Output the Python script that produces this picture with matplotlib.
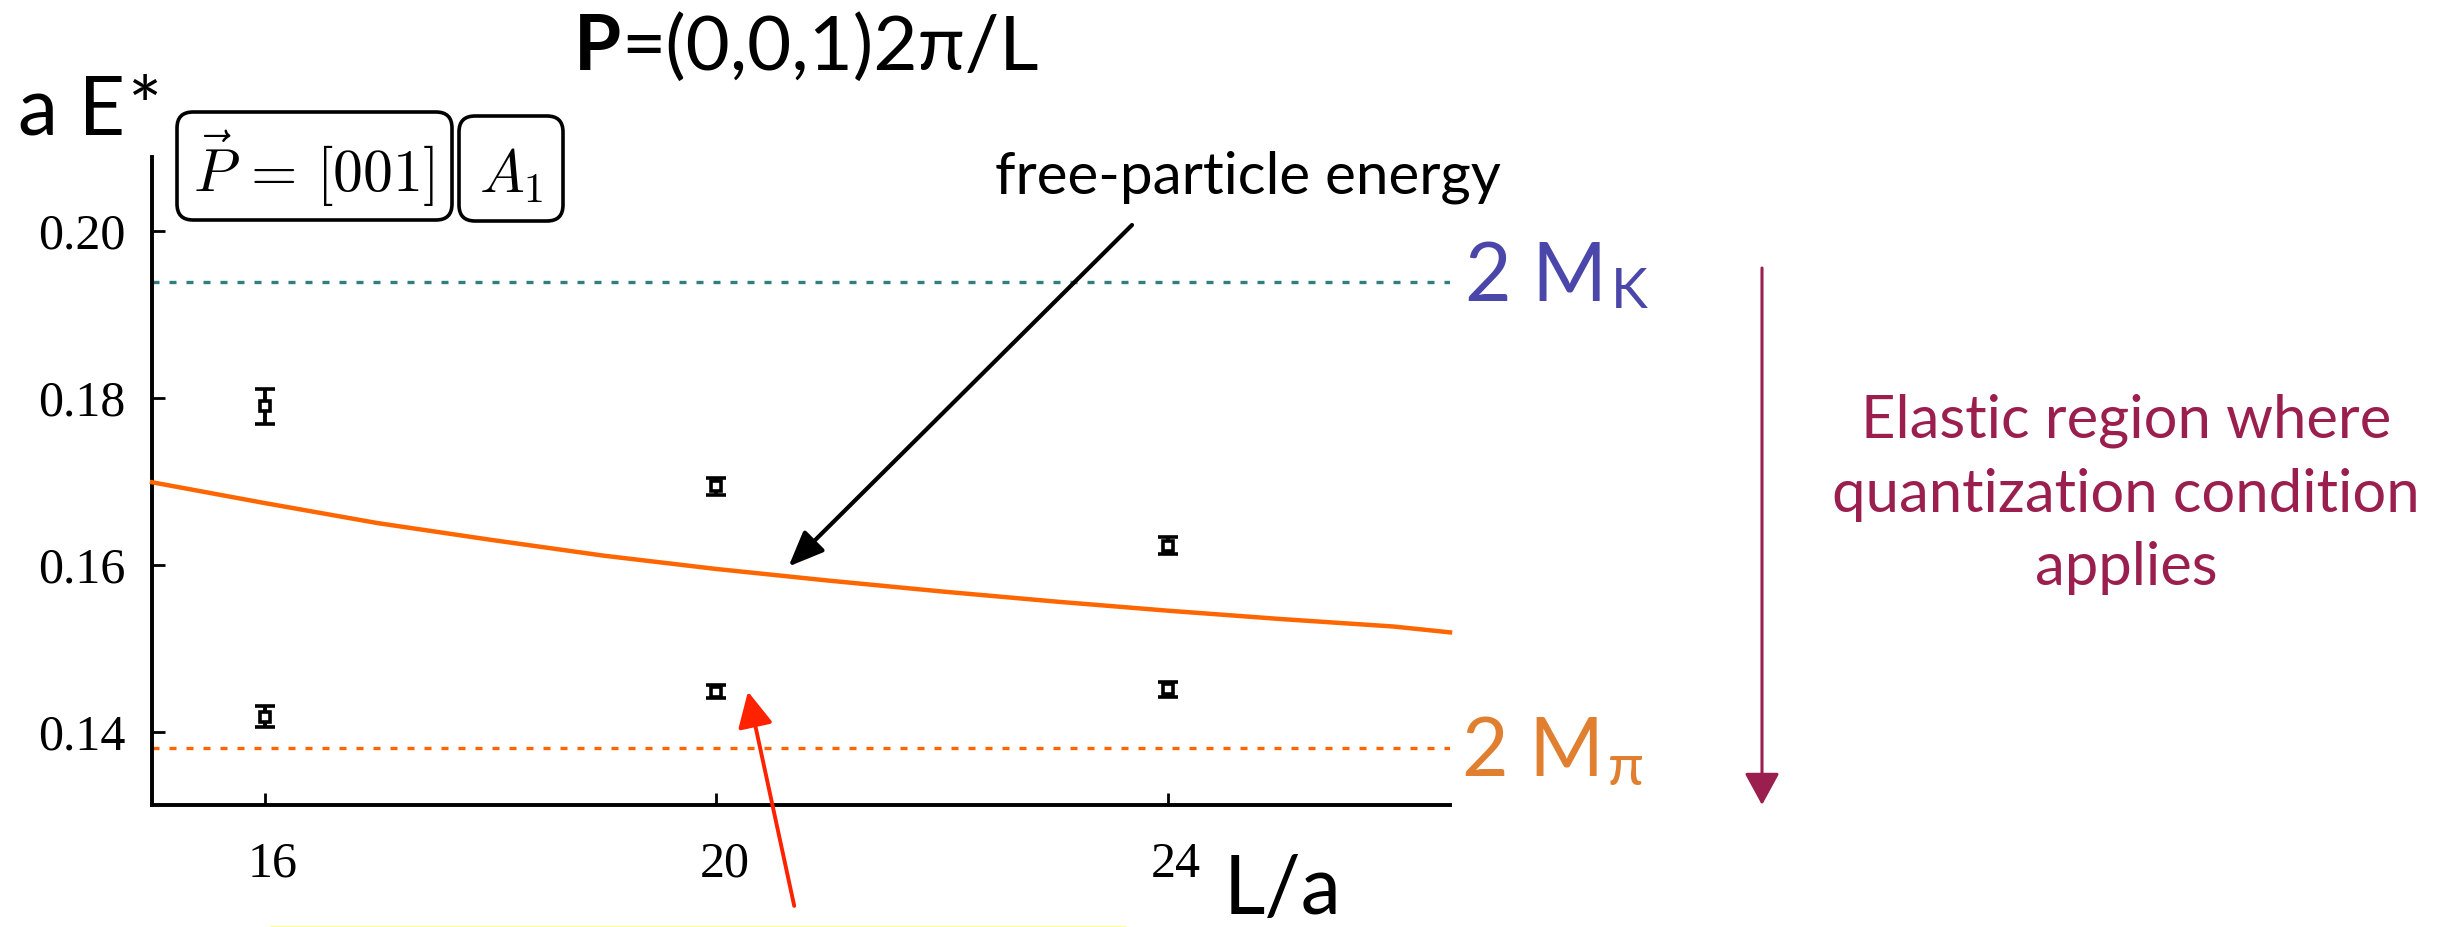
import matplotlib
matplotlib.use("Agg")
import matplotlib.pyplot as plt
import matplotlib.transforms as mtransforms
from matplotlib.patches import FancyBboxPatch, FancyArrowPatch
from matplotlib.lines import Line2D

W, H, DPI = 2454, 927, 100

# ---- values ----
L_vals = [16, 20, 24]
E_upper = [0.1790, 0.1694, 0.1623]
err_upper = [0.0021, 0.0010, 0.0010]
E_lower = [0.1418, 0.1448, 0.1451]
err_lower = [0.0013, 0.0008, 0.0009]

# free-particle energy curve
L_free = [15, 16, 17, 18, 19, 20, 21, 22, 23, 24, 25, 26, 26.5]
E_free = [0.1699, 0.1674, 0.1650, 0.1630, 0.1611, 0.1595, 0.1581,
          0.1568, 0.1556, 0.1545, 0.1535, 0.1526, 0.1519]

two_mK = 0.1939
two_mpi = 0.1380

xticks = [16, 20, 24]
xtick_labels = ["16", "20", "24"]
yticks = [0.14, 0.16, 0.18, 0.20]
ytick_labels = ["0.14", "0.16", "0.18", "0.20"]

# colours
c_curve = "#ff6600"
c_teal = "#2f7f7c"
c_purple = "#4b46a9"
c_mpi = "#e07f30"
c_maroon = "#9a1f4e"
c_red = "#ff2200"

plt.rcParams["font.family"] = ["Lato", "DejaVu Sans"]
plt.rcParams["mathtext.fontset"] = "cm"

fig = plt.figure(figsize=(W / DPI, H / DPI), dpi=DPI)
ax = fig.add_axes([152 / W, 1 - 805 / H, (1450 - 152) / W, (805 - 157) / H])
ax.set_xlim(15.0, 26.5)
ax.set_ylim(0.1312, 0.2089)

for s in ["top", "right"]:
    ax.spines[s].set_visible(False)
for s in ["left", "bottom"]:
    ax.spines[s].set_linewidth(2.8)

ax.set_xticks(xticks)
ax.set_xticklabels(xtick_labels, fontfamily="Liberation Serif", fontsize=36)
ax.set_yticks(yticks)
ax.set_yticklabels(ytick_labels, fontfamily="Liberation Serif", fontsize=36)
ax.tick_params(axis="both", direction="in", length=9, width=2)
ax.tick_params(axis="y", pad=19)
ax.tick_params(axis="x", pad=26)
# x labels sit slightly right of their ticks
shift = mtransforms.ScaledTranslation(8 / DPI, 0, fig.dpi_scale_trans)
for lab in ax.get_xticklabels():
    lab.set_transform(lab.get_transform() + shift)

# threshold lines
dots = (0, (2.1, 3.0))
ax.axhline(two_mK, color=c_teal, lw=2.4, linestyle=dots)
ax.axhline(two_mpi, color=c_curve, lw=2.4, linestyle=dots)

# free-particle curve
ax.plot(L_free, E_free, color=c_curve, lw=3.2, clip_on=False, zorder=3)

# lattice levels
eb = dict(fmt="s", ms=6.6, mfc="white", mec="black", mew=2.6, ecolor="black",
          elinewidth=2.8, capsize=7.2, capthick=2.8, zorder=5)
ax.errorbar(L_vals, E_upper, yerr=err_upper, **eb)
ax.errorbar(L_vals, E_lower, yerr=err_lower, **eb)


def ftext(x, y, s, **kw):
    # x, y in image pixels from top-left, y is the baseline
    return fig.text(x / W, 1 - y / H, s, va="baseline", **kw)


# threshold labels
tK = ax.annotate("2 M", xy=(1, two_mK), xycoords=("axes fraction", "data"),
                 xytext=(15 * 0.72, -19 * 0.72), textcoords="offset points",
                 va="baseline", ha="left", fontsize=58, color=c_purple,
                 annotation_clip=False)
tP = ax.annotate("2 M", xy=(1, two_mpi), xycoords=("axes fraction", "data"),
                 xytext=(12 * 0.72, -28 * 0.72), textcoords="offset points",
                 va="baseline", ha="left", fontsize=58, color=c_mpi,
                 annotation_clip=False)

# title and axis words
tT = ftext(574, 70, "P", fontsize=55, fontweight="bold")
tA = ftext(18, 135, "a E", fontsize=58)
ftext(1224, 914, "L/a", fontsize=58)

# boxed labels
box_kw = dict(boxstyle="round,pad=0,rounding_size=16", fc="white", ec="black",
              lw=2.6, transform=mtransforms.IdentityTransform())
fig.add_artist(FancyBboxPatch((177, H - 220), 452 - 177, 108, **box_kw))
fig.add_artist(FancyBboxPatch((459, H - 221), 563 - 459, 105, **box_kw))
ftext(313, 192, r"$\vec{P}\,=\,[001]$", fontsize=43, ha="center")
ftext(511, 193, r"$A_1$", fontsize=43, ha="center")

# annotations
ftext(1248, 193, "free-particle energy", fontsize=42, ha="center")
ax.annotate("", xy=(20.64, 0.1598), xycoords="data",
            xytext=(1132, H - 225), textcoords="figure pixels",
            arrowprops=dict(arrowstyle="-|>,head_length=0.6,head_width=0.25",
                            color="black", lw=3, mutation_scale=36,
                            shrinkA=0, shrinkB=0),
            annotation_clip=False)
ax.annotate("", xy=(20.28, 0.1448), xycoords="data",
            xytext=(20.69, 0.1191), textcoords="data",
            arrowprops=dict(arrowstyle="-|>,head_length=0.6,head_width=0.3",
                            color=c_red, lw=2.8, mutation_scale=36,
                            shrinkA=0, shrinkB=0),
            annotation_clip=False)

fig.add_artist(FancyArrowPatch((1762, H - 268), (1762, H - 805),
                               transform=mtransforms.IdentityTransform(),
                               arrowstyle="-|>,head_length=0.55,head_width=0.3",
                               mutation_scale=36, color=c_maroon, lw=2.2,
                               shrinkA=0, shrinkB=0))
for yb, s in zip([438, 512, 585],
                 ["Elastic region where", "quantization condition", "applies"]):
    ftext(2126, yb, s, fontsize=43, ha="center", color=c_maroon)

# faint yellow edge left at the bottom
fig.add_artist(Line2D([270 / W, 1125 / W], [1 - 925.5 / H] * 2,
                      transform=fig.transFigure, color="#fbfba0", lw=0.9))

# pieces that follow other text: subscripts, title tail, asterisk
fig.canvas.draw()
r = fig.canvas.get_renderer()

bb = tK.get_window_extent(r)
yK = ax.transData.transform((0, two_mK))[1]
fig.text((bb.x1 + 4) / W, (yK - 26) / H, "K", va="baseline", fontsize=40,
         color=c_purple)
bb = tP.get_window_extent(r)
yP = ax.transData.transform((0, two_mpi))[1]
fig.text((bb.x1 + 4) / W, (yP - 37) / H, "π", va="baseline", fontsize=42,
         color=c_mpi)

bb = tT.get_window_extent(r)
fig.text(bb.x1 / W, 1 - 70 / H, "=(0,0,1)2π/L", va="baseline", fontsize=55)
bb = tA.get_window_extent(r)
fig.text((bb.x1 + 2) / W, 1 - 135 / H, "*", va="baseline", fontsize=58)

fig.savefig("out.png", dpi=DPI)
